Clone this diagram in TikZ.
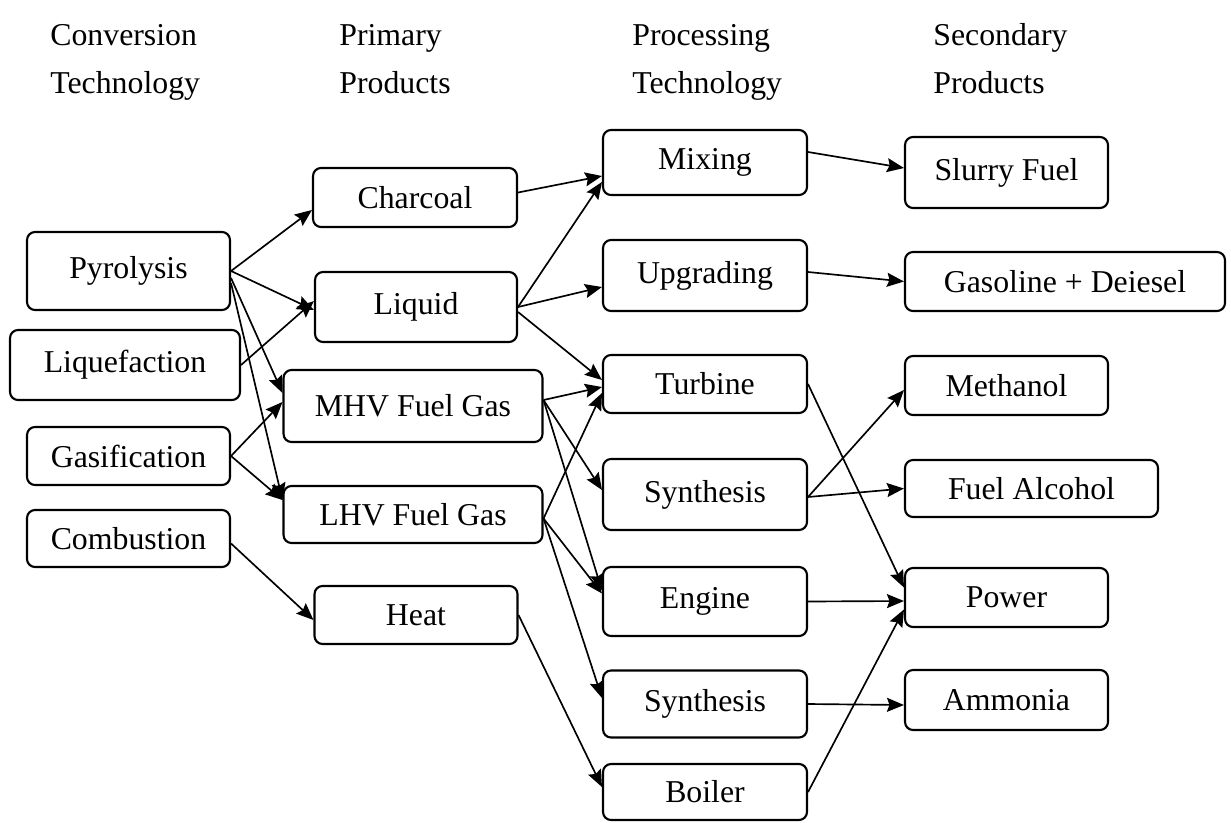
\documentclass[tikz,border=0pt]{standalone}
\usepackage{fontspec}
\setmainfont{Liberation Serif}
\usetikzlibrary{arrows.meta}
\begin{document}
\begin{tikzpicture}[x=0.02cm,y=-0.02cm,
  box/.style={draw, line width=1.2pt, rounded corners=0.16cm, inner sep=0pt,
    minimum width=4.06cm, font=\fontsize{18.1}{22}\selectfont},
  head/.style={anchor=base west, inner sep=0pt, font=\fontsize{18.1}{22}\selectfont},
  conn/.style={line width=0.95pt, -{Stealth[length=0.34cm,width=0.28cm,inset=0.05cm]}}]
\useasboundingbox (0,0) rectangle (1231,822);
% headers
\node[head] (h1a) at (50,45) {Conversion};
\node[head] (h1b) at (50,93) {Technology};
\node[head] (h2a) at (339,45) {Primary};
\node[head] (h2b) at (339,93) {Products};
\node[head] (h3a) at (632,45) {Processing};
\node[head] (h3b) at (632,93) {Technology};
\node[head] (h4a) at (933,45) {Secondary};
\node[head] (h4b) at (933,93) {Products};
% column 1
\node[box, minimum height=1.56cm] (pyro) at (128.5,271) {Pyrolysis};
\node[box, minimum width=4.6cm, minimum height=1.4cm] (lique) at (125,365) {Liquefaction};
\node[box, minimum height=1.16cm] (gasif) at (128.5,456) {Gasification};
\node[box, minimum height=1.14cm] (comb) at (128.5,538.5) {Combustion};
% column 2
\node[box, minimum width=4.08cm, minimum height=1.18cm] (charcoal) at (415,197.5) {Charcoal};
\node[box, minimum width=4.04cm, minimum height=1.4cm] (liquid) at (416,307) {Liquid};
\node[box, minimum width=5.18cm, minimum height=1.44cm] (mhv) at (413,406) {MHV Fuel Gas};
\node[box, minimum width=5.18cm, minimum height=1.14cm] (lhv) at (413,514.5) {LHV Fuel Gas};
\node[box, minimum height=1.16cm] (heat) at (416,615) {Heat};
% column 3
\node[box, minimum width=4.08cm, minimum height=1.3cm] (mixing) at (705,162.5) {Mixing};
\node[box, minimum width=4.08cm, minimum height=1.42cm] (upgrading) at (705,275.5) {Upgrading};
\node[box, minimum width=4.08cm, minimum height=1.16cm] (turbine) at (705,384) {Turbine};
\node[box, minimum width=4.08cm, minimum height=1.42cm] (synthA) at (705,494.5) {Synthesis};
\node[box, minimum width=4.08cm, minimum height=1.38cm] (engine) at (705,601.5) {Engine};
\node[box, minimum width=4.08cm, minimum height=1.34cm] (synthB) at (705,704) {Synthesis};
\node[box, minimum width=4.08cm, minimum height=1.12cm] (boiler) at (705,792) {Boiler};
% column 4
\node[box, minimum height=1.42cm] (slurry) at (1006.5,172.5) {Slurry Fuel};
\node[box, minimum width=6.4cm, minimum height=1.18cm] (gasoline) at (1065,281.5) {Gasoline + Deiesel};
\node[box, minimum height=1.18cm] (methanol) at (1006.5,385.5) {Methanol};
\node[box, minimum width=5.06cm, minimum height=1.14cm] (alcohol) at (1031.5,488.5) {Fuel Alcohol};
\node[box, minimum height=1.18cm] (power) at (1006.5,597.5) {Power};
\node[box, minimum height=1.2cm] (ammonia) at (1006.5,700) {Ammonia};
% connectors: conversion -> primary
\draw[conn] (pyro.east) -- ([yshift=-0.25cm]charcoal.west);
\draw[conn] (pyro.east) -- ([yshift=-0.06cm]liquid.west);
\draw[conn] ([yshift=-0.14cm]pyro.east) -- ([yshift=0.26cm]mhv.west);
\draw[conn] ([yshift=-0.24cm]pyro.east) -- ([yshift=0.29cm]lhv.west);
\draw[conn] (lique.east) -- ([yshift=0.12cm]liquid.west);
\draw[conn] (gasif.east) -- ([yshift=0.08cm]mhv.west);
\draw[conn] (gasif.east) -- ([yshift=0.29cm]lhv.west);
\draw[conn] ([yshift=-0.1cm]comb.east) -- ([yshift=-0.1cm]heat.west);
% primary -> processing
\draw[conn] ([yshift=0.1cm]charcoal.east) -- ([yshift=-0.27cm]mixing.west);
\draw[conn] (liquid.east) -- ([yshift=-0.39cm]mixing.west);
\draw[conn] (liquid.east) -- ([yshift=-0.23cm]upgrading.west);
\draw[conn] ([yshift=-0.1cm]liquid.east) -- ([yshift=0.08cm]turbine.west);
\draw[conn] ([yshift=0.12cm]mhv.east) -- ([yshift=-0.06cm]turbine.west);
\draw[conn] ([yshift=0.12cm]mhv.east) -- ([yshift=0.09cm]synthA.west);
\draw[conn] ([yshift=0.12cm]mhv.east) -- ([yshift=0.22cm]engine.west);
\draw[conn] ([yshift=-0.08cm]lhv.east) -- ([yshift=-0.18cm]turbine.west);
\draw[conn] ([yshift=-0.08cm]lhv.east) -- ([yshift=0.16cm]engine.west);
\draw[conn] ([yshift=-0.08cm]lhv.east) -- ([yshift=0.12cm]synthB.west);
\draw[conn] (heat.east) -- ([yshift=0.1cm]boiler.west);
% processing -> secondary
\draw[conn] ([yshift=0.21cm]mixing.east) -- ([yshift=0.09cm]slurry.west);
\draw[conn] ([yshift=0.07cm]upgrading.east) -- (gasoline.west);
\draw[conn] (turbine.east) -- ([yshift=0.2cm]power.west);
\draw[conn] ([yshift=-0.05cm]synthA.east) -- ([yshift=-0.09cm]methanol.west);
\draw[conn] ([yshift=-0.05cm]synthA.east) -- (alcohol.west);
\draw[conn] (engine.east) -- ([yshift=-0.07cm]power.west);
\draw[conn] (synthB.east) -- ([yshift=-0.1cm]ammonia.west);
\draw[conn] (boiler.east) -- ([yshift=-0.24cm]power.west);
\end{tikzpicture}
\end{document}
